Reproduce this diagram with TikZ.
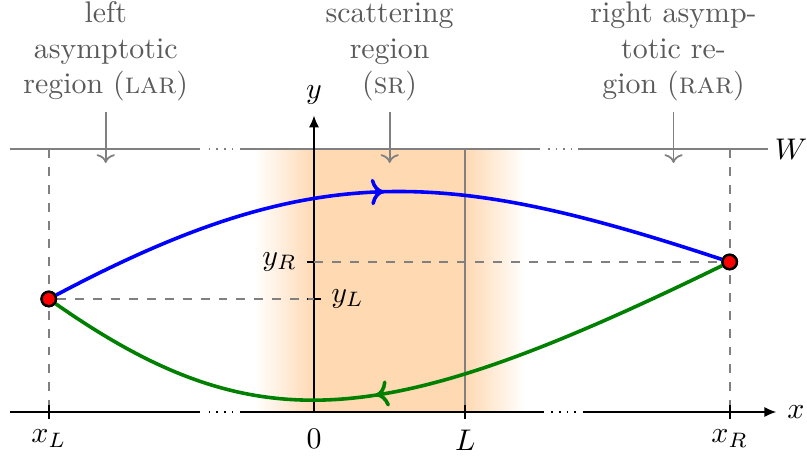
\documentclass[tikz,border=0pt]{standalone}
\usepackage{amsmath,amssymb}
\usetikzlibrary{arrows.meta, decorations.markings}
\definecolor{srorange}{rgb}{1,0.85,0.7}
\definecolor{dkgreen}{rgb}{0,0.5,0}
\definecolor{labgray}{HTML}{5A5A5A}

\begin{document}
\begin{tikzpicture}[
  axis/.style={semithick},
  guide/.style={gray, semithick},
  helper/.style={gray, semithick, dashed},
  regionlabel/.style={labgray, align=center, anchor=south},
  orbit/.style={very thick, postaction={decorate},
    decoration={markings, mark=at position #1 with {\arrow{>}}}},
  orbit/.default=0.5,
  point/.style={circle, draw=black, thick, fill=red, inner sep=0pt, minimum size=0.17cm}
]
\useasboundingbox (-3.694,-0.53) rectangle (5.8,4.847);

% Points
\coordinate (xL) at (-3.12,0);
\coordinate (xR) at (4.89,0);
\coordinate (L) at (1.78,0);
\coordinate (yL) at (0,1.33);
\coordinate (yR) at (0,1.765);
\coordinate (wL) at (-3.12,3.09);
\coordinate (wR) at (4.89,3.09);
\coordinate (wS) at (1.78,3.09);

% Scattering region (shaded)
\shade[left color=white, right color=srorange] (-0.7,0) rectangle (0,3.09);
\fill[srorange] (0,0) rectangle (wS);
\shade[left color=srorange, right color=white] (L) rectangle (2.48,3.09);

% Wall W
\draw[guide] (-3.58,3.09) -- (-1.34,3.09);
\draw[guide, dotted] (-1.24,3.09) -- (-0.95,3.09);
\draw[guide] (-0.87,3.09) -- (2.66,3.09);
\draw[guide, dotted] (2.75,3.09) -- (3.04,3.09);
\draw[guide] (3.11,3.09) -- (5.34,3.09) node[right, inner sep=2pt, black] (wlab) {$W$};

% Helper lines
\draw[helper] (wL) -- (xL);
\draw[helper] (wR) -- (xR);
\draw[guide] (wS) -- (L);

% Axes
\draw[axis] (-3.58,0) -- (-1.34,0);
\draw[axis, dotted] (-1.24,0) -- (-0.95,0);
\draw[axis] (-0.87,0) -- (2.70,0);
\draw[axis, dotted] (2.79,0) -- (3.08,0);
\draw[axis, -{Latex[length=4pt, width=3.4pt]}] (3.16,0) -- (5.44,0) node[right] (xlab) {$x$};
\draw[axis, -{Latex[length=4pt, width=3.4pt]}] (0,0) -- (0,3.49) node[above] (ylab) {$y$};

% Ticks
\foreach \p/\lab in {xL/$x_L$, L/$L$, xR/$x_R$} {
  \draw[axis] (\p) ++(0,0.08) -- ++(0,-0.16) node[below] (t\p) {\lab};
}
\node[below] (t0) at (0,-0.08) {$0$};
\draw[axis] (yR) ++(-0.08,0) -- ++(0.16,0);
\draw[axis] (yL) ++(-0.08,0) -- ++(0.16,0);
\node[left] (tyR) at (-0.08,1.765) {$y_R$};
\node[right] (tyL) at (0.08,1.33) {$y_L$};

% End points
\node[point] (pL) at (-3.12,1.33) {};
\node[point] (pR) at (4.89,1.765) {};
\draw[helper] (pL) -- (yL);
\draw[helper] (yR) -- (pR);

% Orbits
\draw[orbit, blue] (pL) .. controls (-0.03,2.97) and (1.52,2.88) .. (pR);
\draw[orbit=0.52, dkgreen] (pR) .. controls (0.84,-0.21) and (-0.66,-0.39) .. (pL);
\node[point] at (pL) {};
\node[point] at (pR) {};

% Region labels
\node[regionlabel] (lar) at (-2.45,3.53) {left\\asymptotic\\region (\textsc{lar})};
\node[regionlabel] (sr) at (0.89,3.53) {scattering\\region\\(\textsc{sr})};
\node[regionlabel] (rar) at (4.23,3.53) {right asymp-\\totic re-\\gion (\textsc{rar})};
\coordinate (aL) at (-2.45,2.93);
\coordinate (aS) at (0.89,2.93);
\coordinate (aR) at (4.23,2.93);
\draw[guide, ->] (lar) -- (aL);
\draw[guide, ->] (sr) -- (aS);
\draw[guide, ->] (rar) -- (aR);

\end{tikzpicture}
\end{document}
